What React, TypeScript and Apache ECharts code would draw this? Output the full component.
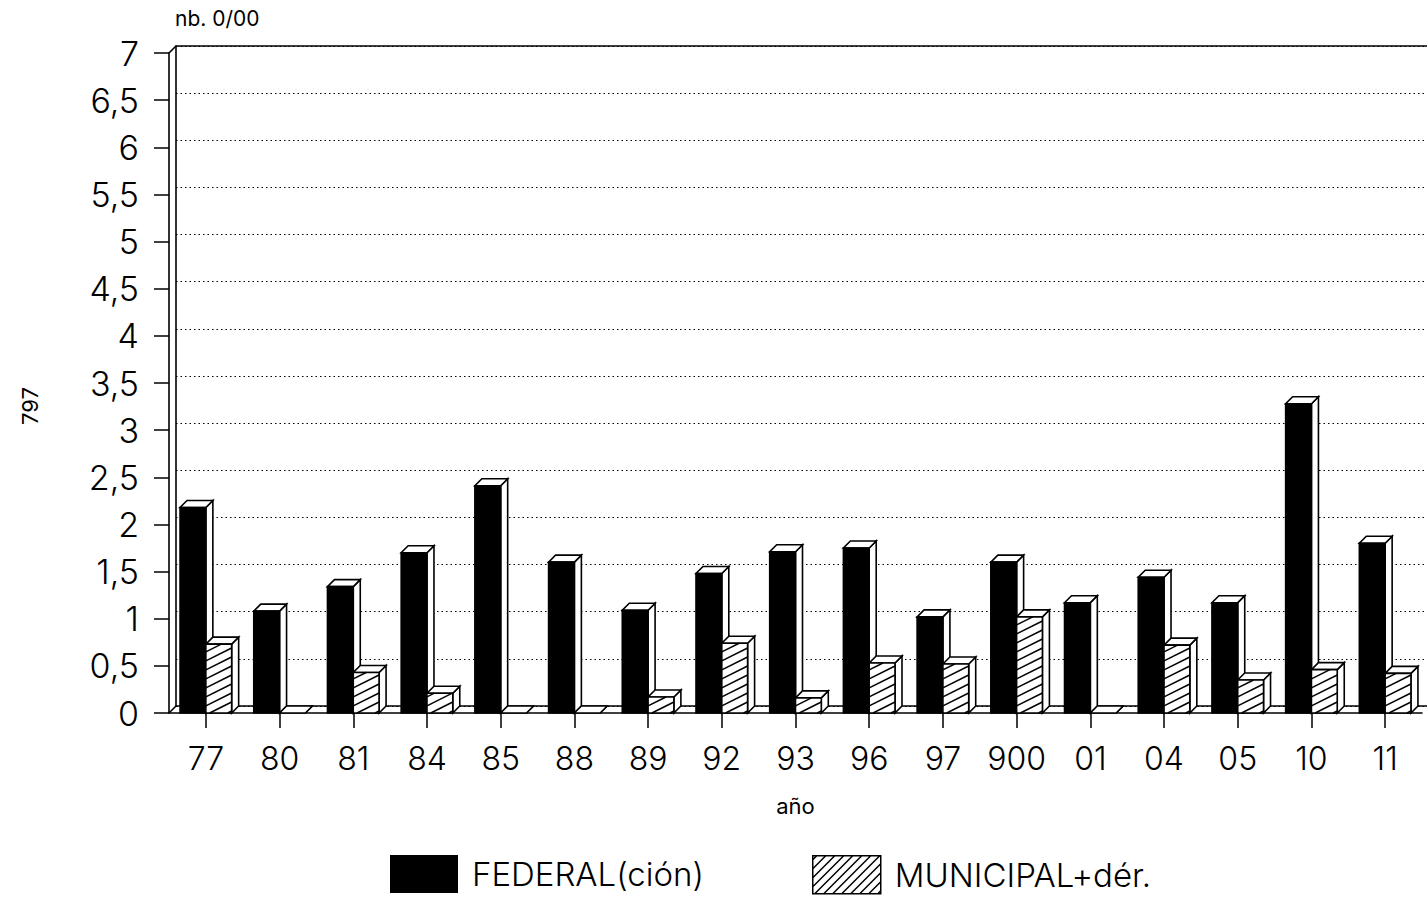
import React, { useEffect, useRef } from 'react';
import * as echarts from 'echarts';

const categories = ['77', '80', '81', '84', '85', '88', '89', '92', '93', '96', '97', '900', '01', '04', '05', '10', '11'];
const federal = [2.18, 1.08, 1.34, 1.7, 2.41, 1.6, 1.09, 1.48, 1.71, 1.75, 1.02, 1.6, 1.17, 1.44, 1.17, 3.28, 1.8];
const municipal = [0.73, 0, 0.43, 0.21, 0, 0, 0.17, 0.74, 0.16, 0.53, 0.52, 1.02, 0, 0.72, 0.35, 0.46, 0.42];
const seriesNames = ['FEDERAL(ción)', 'MUNICIPAL+dér.'];
const yMin = 0;
const yMax = 7;
const yStep = 0.5;
const yUnit = 'nb. 0/00';
const xName = 'año';
const pageNumber = '797';

const FONT = 'Inter, "DejaVu Sans", sans-serif';
const DEPTH = 7;
const BAR_FRAC = 0.35;
const LW = 1.6;

function makeRender(kind: 'fed' | 'mun') {
  return (_params: any, api: any) => {
    const idx = api.value(0);
    const v = api.value(1);
    const base = api.coord([idx, 0]);
    const top = api.coord([idx, v]);
    const band = api.size([1, 0])[0];
    const w = band * BAR_FRAC;
    const xL = kind === 'fed' ? base[0] - w : base[0];
    const xR = xL + w;
    const yB = base[1];
    const yT = top[1];
    const d = DEPTH;
    const stroke = { stroke: '#000', lineWidth: LW, lineJoin: 'miter' };
    const children: any[] = [];
    children.push({
      type: 'polygon',
      shape: { points: [[xR, yT], [xR + d, yT - d], [xR + d, yB - d], [xR, yB]] },
      style: { fill: '#fff', ...stroke },
    });
    children.push({
      type: 'polygon',
      shape: { points: [[xL, yT], [xR, yT], [xR + d, yT - d], [xL + d, yT - d]] },
      style: { fill: '#fff', ...stroke },
    });
    if (yB - yT > 0.5) {
      children.push({
        type: 'rect',
        shape: { x: xL, y: yT, width: w, height: yB - yT },
        style: { fill: kind === 'fed' ? '#000' : '#fff', ...stroke },
      });
      if (kind === 'mun') {
        const s = 9;
        const slope = 0.5;
        for (let k = 0; k < 200; k++) {
          const c = yB + slope * w - 2 - k * s;
          if (c < yT) break;
          const xa = Math.max(xL, xL + (c - yB) / slope);
          const xb = Math.min(xR, xL + (c - yT) / slope);
          if (xb - xa > 0.8) {
            children.push({
              type: 'line',
              shape: { x1: xa, y1: c - slope * (xa - xL), x2: xb, y2: c - slope * (xb - xL) },
              style: { stroke: '#000', lineWidth: 1.5 },
            });
          }
        }
      }
    }
    return { type: 'group', children };
  };
}

function hatchIconPath(): string {
  const W = 68;
  const H = 38;
  let p = `path://M0,0L${W},0L${W},${H}L0,${H}Z`;
  for (let c = -H + 4; c < W; c += 9) {
    let x1 = c;
    let y1 = H;
    let x2 = c + H;
    let y2 = 0;
    if (x1 < 0) {
      y1 = H + x1;
      x1 = 0;
    }
    if (x2 > W) {
      y2 = x2 - W;
      x2 = W;
    }
    if (x2 - x1 > 1) p += `M${x1},${y1}L${x2},${y2}`;
  }
  return p;
}

export default function App() {
  const ref = useRef<HTMLDivElement>(null);
  useEffect(() => {
    document.body.style.margin = '0';
    if (!ref.current) return;
    const chart = echarts.init(ref.current, undefined, { renderer: 'svg' });
    const axisLineStyle = { color: '#000', width: LW };
    const legendText = { fontSize: 33, color: '#000', fontFamily: FONT, fontWeight: 300, padding: [0, 0, 0, 9] };
    chart.setOption({
      animation: false,
      backgroundColor: '#fff',
      grid: [
        { left: 169, right: 5, top: 53, bottom: 186 },
        { left: 176, right: -3, top: 46, bottom: 193 },
      ],
      xAxis: [
        {
          gridIndex: 0,
          type: 'category',
          data: categories,
          axisLine: { show: true, lineStyle: axisLineStyle },
          axisTick: { show: true, alignWithLabel: true, length: 15, lineStyle: { color: '#000', width: 1.5 } },
          axisLabel: { interval: 0, color: '#000', fontSize: 32, fontFamily: FONT, fontWeight: 300, margin: 29 },
          splitLine: { show: false },
          name: xName,
          nameLocation: 'middle',
          nameGap: 82,
          nameTextStyle: { color: '#000', fontSize: 22, fontFamily: FONT, fontWeight: 400 },
          z: 1,
        },
        {
          gridIndex: 1,
          type: 'value',
          min: 0,
          max: 1,
          position: 'bottom',
          axisLine: { show: true, lineStyle: axisLineStyle },
          axisTick: { show: false },
          axisLabel: { show: false },
          splitLine: { show: false },
          z: 0,
        },
        {
          gridIndex: 1,
          type: 'value',
          min: 0,
          max: 1,
          position: 'top',
          axisLine: { show: true, lineStyle: axisLineStyle },
          axisTick: { show: false },
          axisLabel: { show: false },
          splitLine: { show: false },
          z: 0,
        },
      ],
      yAxis: [
        {
          gridIndex: 0,
          type: 'value',
          min: yMin,
          max: yMax,
          interval: yStep,
          axisLine: { show: true, lineStyle: axisLineStyle },
          axisTick: { show: true, length: 15, lineStyle: { color: '#000', width: 1.5 } },
          axisLabel: {
            color: '#000',
            fontSize: 34,
            fontFamily: FONT,
            fontWeight: 300,
            margin: 30,
            formatter: (v: number) => String(v).replace('.', ','),
          },
          splitLine: { show: false },
          name: yUnit,
          nameLocation: 'end',
          nameGap: 35,
          nameTextStyle: {
            color: '#000',
            fontSize: 21,
            fontFamily: FONT,
            align: 'left',
            verticalAlign: 'middle',
            padding: [0, 0, 0, 6],
          },
          z: 1,
        },
        {
          gridIndex: 1,
          type: 'value',
          min: yMin,
          max: yMax,
          interval: yStep,
          axisLine: { show: true, lineStyle: axisLineStyle },
          axisTick: { show: false },
          axisLabel: { show: false },
          splitLine: { show: true, lineStyle: { color: '#000', width: 1.2, type: [1.5, 3] } },
          z: 0,
        },
      ],
      legend: [
        {
          left: 390,
          top: 855,
          padding: 0,
          itemWidth: 68,
          itemHeight: 38,
          selectedMode: false,
          textStyle: legendText,
          data: [{ name: seriesNames[0], icon: 'rect', itemStyle: { color: '#000', borderWidth: 0 } }],
        },
        {
          left: 812,
          top: 855,
          padding: 0,
          itemWidth: 68,
          itemHeight: 38,
          selectedMode: false,
          textStyle: legendText,
          data: [
            {
              name: seriesNames[1],
              icon: hatchIconPath(),
              itemStyle: { color: '#fff', borderColor: '#000', borderWidth: 1.5 },
            },
          ],
        },
      ],
      graphic: [
        {
          type: 'text',
          x: 30,
          y: 406,
          rotation: Math.PI / 2,
          style: { text: pageNumber, fontSize: 22, fontFamily: FONT, fill: '#000', align: 'center', verticalAlign: 'middle' },
        },
        { type: 'line', shape: { x1: 169, y1: 53, x2: 176, y2: 46 }, style: { stroke: '#000', lineWidth: LW } },
        { type: 'line', shape: { x1: 169, y1: 713, x2: 176, y2: 706 }, style: { stroke: '#000', lineWidth: LW } },
      ],
      series: [
        {
          name: seriesNames[0],
          type: 'custom',
          xAxisIndex: 0,
          yAxisIndex: 0,
          renderItem: makeRender('fed'),
          encode: { x: 0, y: 1 },
          itemStyle: { color: '#000' },
          data: federal.map((v, i) => [i, v]),
          z: 3,
        },
        {
          name: seriesNames[1],
          type: 'custom',
          xAxisIndex: 0,
          yAxisIndex: 0,
          renderItem: makeRender('mun'),
          encode: { x: 0, y: 1 },
          itemStyle: { color: '#fff', borderColor: '#000' },
          data: municipal.map((v, i) => [i, v]),
          z: 4,
        },
      ],
    });
    return () => chart.dispose();
  }, []);
  return <div ref={ref} style={{ width: 1427, height: 899 }} />;
}
